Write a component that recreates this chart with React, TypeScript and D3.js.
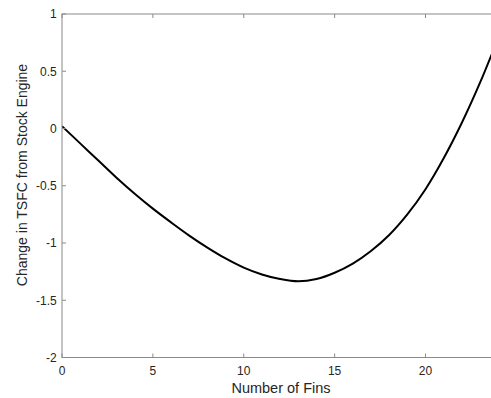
import React, { useEffect, useRef } from 'react';
import * as d3 from 'd3';

const fins = [0, 1, 2, 3, 4, 5, 6, 7, 8, 9, 10, 11, 12, 13, 14, 15, 16, 17, 18, 19, 20, 21, 22, 23, 24];
const tsfcChange = [0.02, -0.13, -0.28, -0.43, -0.57, -0.7, -0.82, -0.935, -1.04, -1.135, -1.215, -1.275, -1.315, -1.335, -1.315, -1.26, -1.18, -1.07, -0.93, -0.75, -0.53, -0.26, 0.05, 0.4, 0.79];
const xTicks = [0, 5, 10, 15, 20];
const yTicks = [-2, -1.5, -1, -0.5, 0, 0.5, 1];

const width = 491;
const height = 398;

const App = () => {
  const svgRef = useRef<SVGSVGElement>(null);

  useEffect(() => {
    const svg = d3.select(svgRef.current);
    svg.selectAll('*').remove();

    const left = 62;
    const right = 498.2;
    const top = 14;
    const bottom = 357.5;
    const font = '"Liberation Sans", Arial, sans-serif';
    const axisColor = '#8a8a8a';
    const textColor = '#262626';

    const x = d3.scaleLinear().domain([0, 24]).range([left, right]);
    const y = d3.scaleLinear().domain([-2, 1]).range([bottom, top]);

    const g = svg.append('g');

    // data line, clipped to the box
    svg.append('clipPath').attr('id', 'plotclip')
      .append('rect').attr('x', left).attr('y', top).attr('width', right - left).attr('height', bottom - top);

    const line = d3.line<number>()
      .x((d, i) => x(fins[i]))
      .y((d) => y(d))
      .curve(d3.curveCatmullRom.alpha(0.5));

    g.append('path')
      .datum(tsfcChange)
      .attr('clip-path', 'url(#plotclip)')
      .attr('fill', 'none')
      .attr('stroke', '#000')
      .attr('stroke-width', 2)
      .attr('d', line);

    // box
    g.append('rect')
      .attr('x', left).attr('y', top)
      .attr('width', right - left).attr('height', bottom - top)
      .attr('fill', 'none')
      .attr('stroke', axisColor)
      .attr('stroke-width', 1);

    const tickLen = 4;
    xTicks.forEach((t) => {
      g.append('line').attr('x1', x(t)).attr('x2', x(t)).attr('y1', bottom).attr('y2', bottom - tickLen)
        .attr('stroke', axisColor);
      g.append('line').attr('x1', x(t)).attr('x2', x(t)).attr('y1', top).attr('y2', top + tickLen)
        .attr('stroke', axisColor);
      g.append('text')
        .attr('x', x(t)).attr('y', bottom + 17.5)
        .attr('text-anchor', 'middle')
        .attr('font-family', font).attr('font-size', 12).attr('fill', textColor)
        .text(t);
    });

    yTicks.forEach((t) => {
      g.append('line').attr('x1', left).attr('x2', left + tickLen).attr('y1', y(t)).attr('y2', y(t))
        .attr('stroke', axisColor);
      g.append('line').attr('x1', right).attr('x2', right - tickLen).attr('y1', y(t)).attr('y2', y(t))
        .attr('stroke', axisColor);
      g.append('text')
        .attr('x', left - 5.3).attr('y', y(t) + 4.3)
        .attr('text-anchor', 'end')
        .attr('font-family', font).attr('font-size', 12).attr('fill', textColor)
        .text(t);
    });

    g.append('text')
      .attr('x', 281).attr('y', 393)
      .attr('text-anchor', 'middle')
      .attr('font-family', font).attr('font-size', 14.5).attr('fill', textColor)
      .text('Number of Fins');

    g.append('text')
      .attr('transform', 'translate(27, 175) rotate(-90)')
      .attr('text-anchor', 'middle')
      .attr('font-family', font).attr('font-size', 14).attr('fill', textColor)
      .text('Change in TSFC from Stock Engine');
  }, []);

  return (
    <svg
      ref={svgRef}
      width={width}
      height={height}
      style={{ position: 'absolute', left: 0, top: 0, background: '#fff' }}
    />
  );
};

export default App;
